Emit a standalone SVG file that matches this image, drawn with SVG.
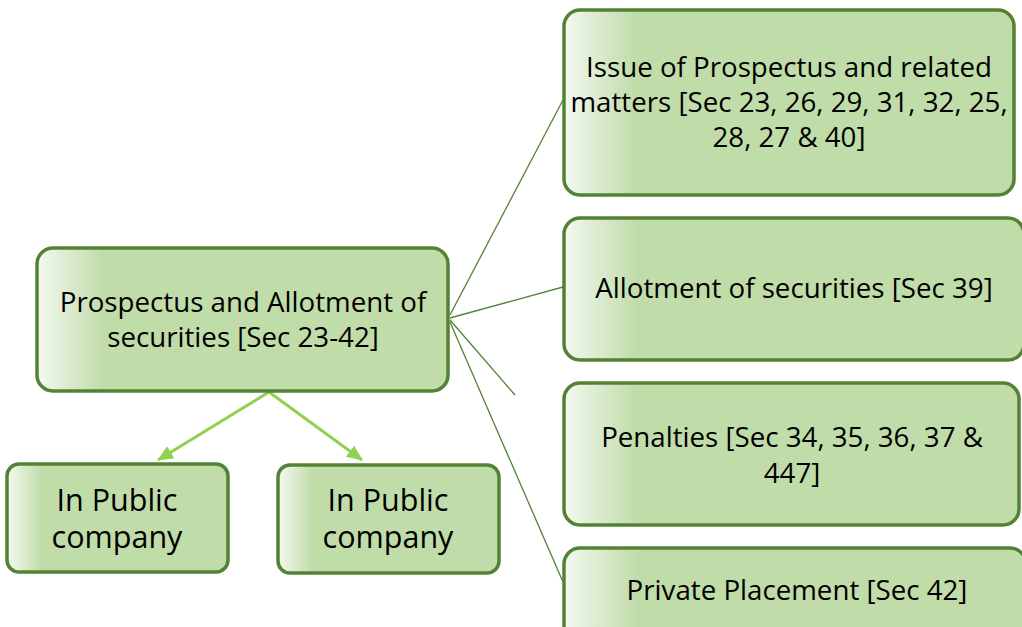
<svg xmlns="http://www.w3.org/2000/svg" width="1022" height="627" viewBox="0 0 1022 627">
  <defs>
    <linearGradient id="g" x1="0" y1="0" x2="1" y2="0">
      <stop offset="0" stop-color="#F4F9F0"/>
      <stop offset="0.16" stop-color="#C0DCA9"/>
      <stop offset="1" stop-color="#C0DCA9"/>
    </linearGradient>
    <marker id="ah" markerWidth="16" markerHeight="14" refX="15" refY="7" orient="auto" markerUnits="userSpaceOnUse">
      <path d="M0,0 L16,7 L0,14 Z" fill="#92D050"/>
    </marker>
    <style>
      .box { fill: url(#g); stroke: #548235; stroke-width: 3.5; }
      .t { font-family: "Open Sans", "Noto Sans", sans-serif; fill: #000; text-anchor: middle; }
      .m { font-size: 27.7px; }
      .b { font-size: 30.5px; }
      .link { stroke: #548235; stroke-width: 1.3; fill: none; }
      .arr { stroke: #92D050; stroke-width: 3; fill: none; }
    </style>
  </defs>
  <rect width="1022" height="627" fill="#FFFFFF"/>
  <g id="connectors">
    <line class="link" x1="450" y1="315" x2="563" y2="100"/>
    <line class="link" x1="450" y1="318" x2="563" y2="287"/>
    <line class="link" x1="450" y1="320" x2="515" y2="395"/>
    <line class="link" x1="450" y1="322" x2="563" y2="582"/>
    <line class="arr" x1="269" y1="392" x2="158" y2="460" marker-end="url(#ah)"/>
    <line class="arr" x1="269" y1="392" x2="362" y2="460" marker-end="url(#ah)"/>
  </g>
  <g id="main">
    <rect class="box" x="37" y="248" width="411" height="143" rx="16"/>
    <text class="t m" x="243" y="312">Prospectus and Allotment of</text>
    <text class="t m" x="243" y="347">securities [Sec 23-42]</text>
  </g>
  <g id="child-left">
    <rect class="box" x="7" y="464" width="221" height="108" rx="12"/>
    <text class="t b" x="117" y="511">In Public</text>
    <text class="t b" x="117" y="548">company</text>
  </g>
  <g id="child-right">
    <rect class="box" x="278" y="465" width="221" height="108" rx="12"/>
    <text class="t b" x="388" y="511">In Public</text>
    <text class="t b" x="388" y="548">company</text>
  </g>
  <g id="node-issue">
    <rect class="box" x="564" y="10" width="450" height="185" rx="16"/>
    <text class="t m" x="789" y="77">Issue of Prospectus and related</text>
    <text class="t m" x="789" y="112">matters [Sec 23, 26, 29, 31, 32, 25,</text>
    <text class="t m" x="789" y="147">28, 27 &amp; 40]</text>
  </g>
  <g id="node-allotment">
    <rect class="box" x="564" y="218" width="460" height="142" rx="16"/>
    <text class="t m" x="794" y="298">Allotment of securities [Sec 39]</text>
  </g>
  <g id="node-penalties">
    <rect class="box" x="564" y="383" width="455" height="142" rx="16"/>
    <text class="t m" x="792" y="447">Penalties [Sec 34, 35, 36, 37 &amp;</text>
    <text class="t m" x="792" y="483">447]</text>
  </g>
  <g id="node-private">
    <rect class="box" x="564" y="548" width="462" height="120" rx="16"/>
    <text class="t m" x="797" y="600">Private Placement [Sec 42]</text>
  </g>
</svg>
